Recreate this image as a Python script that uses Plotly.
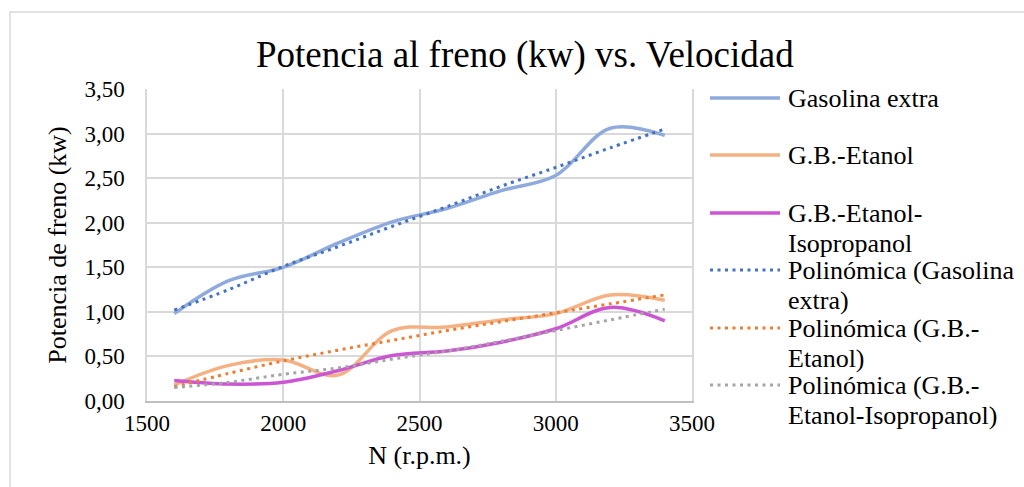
import plotly.graph_objects as go

# Engine speed (r.p.m.)
rpm = [1600, 1800, 2000, 2200, 2400, 2600, 2800, 3000, 3200, 3400]

# Brake power (kW) per fuel
gasolina_extra = [0.98, 1.35, 1.50, 1.77, 2.01, 2.16, 2.36, 2.53, 3.06, 2.98]
gb_etanol = [0.18, 0.40, 0.46, 0.29, 0.79, 0.83, 0.91, 0.98, 1.19, 1.13]
gb_etanol_iso = [0.23, 0.19, 0.21, 0.34, 0.51, 0.56, 0.66, 0.81, 1.05, 0.90]

# Polynomial trend lines
trend_gasolina = [1.02, 1.25, 1.51, 1.73, 1.96, 2.18, 2.41, 2.62, 2.84, 3.05]
trend_etanol = [0.16, 0.31, 0.45, 0.57, 0.68, 0.79, 0.89, 0.99, 1.09, 1.19]
trend_etanol_iso = [0.15, 0.21, 0.30, 0.37, 0.47, 0.56, 0.67, 0.79, 0.91, 1.03]

x_ticks = [1500, 2000, 2500, 3000, 3500]
x_tick_text = ["1500", "2000", "2500", "3000", "3500"]
y_ticks = [0, 0.5, 1.0, 1.5, 2.0, 2.5, 3.0, 3.5]
y_tick_text = ["0,00", "0,50", "1,00", "1,50", "2,00", "2,50", "3,00", "3,50"]

series = [
    ("Gasolina extra", gasolina_extra, "#8FAADC", "solid", 3.5),
    ("G.B.-Etanol", gb_etanol, "#F4B183", "solid", 3.5),
    ("G.B.-Etanol-Isopropanol", gb_etanol_iso, "#CC55D4", "solid", 3.5),
    ("Polinómica (Gasolina extra)", trend_gasolina, "#4472C4", "3px,4.5px", 3),
    ("Polinómica (G.B.-Etanol)", trend_etanol, "#ED7D31", "3px,4.5px", 3),
    ("Polinómica (G.B.-Etanol-Isopropanol)", trend_etanol_iso, "#A5A5A5", "3px,4.5px", 3),
]

# legend rows: text lines for each entry
legend_lines = [
    ["Gasolina extra"],
    ["G.B.-Etanol"],
    ["G.B.-Etanol-", "Isopropanol"],
    ["Polinómica (Gasolina", "extra)"],
    ["Polinómica (G.B.-", "Etanol)"],
    ["Polinómica (G.B.-", "Etanol-Isopropanol)"],
]

W, H = 1024, 487
L, R, T, B = 147, 692, 89, 401
SERIF = "Liberation Serif, Times New Roman, serif"


def xp(px):
    return (px - L) / (R - L)


def yp(py):
    return (B - py) / (B - T)


fig = go.Figure()
for name, vals, color, dash, width in series:
    fig.add_trace(go.Scatter(
        x=rpm, y=vals, name=name, mode="lines",
        line=dict(color=color, width=width, dash=dash, shape="spline", smoothing=1.0),
        showlegend=False,
    ))

shapes = [
    # chart area frame
    dict(type="rect", xref="paper", yref="paper",
         x0=xp(10), x1=xp(1040), y0=yp(12), y1=yp(500),
         line=dict(color="#D9D9D9", width=1.5), fillcolor="rgba(0,0,0,0)", layer="below"),
]
annotations = [
    dict(text="Potencia al freno (kw) vs. Velocidad", xref="paper", yref="paper",
         x=xp(525), y=yp(55), xanchor="center", yanchor="middle", showarrow=False,
         font=dict(family=SERIF, size=37, color="#000000")),
]

entry_y = [98, 155, 213, 270, 328, 385]
line_gap = 30
for (name, vals, color, dash, width), lines, y0 in zip(series, legend_lines, entry_y):
    shapes.append(dict(type="line", xref="paper", yref="paper",
                       x0=xp(710), x1=xp(780), y0=yp(y0), y1=yp(y0),
                       line=dict(color=color, width=width, dash=dash)))
    for i, txt in enumerate(lines):
        annotations.append(dict(text=txt, xref="paper", yref="paper",
                                x=xp(786), y=yp(y0 + i * line_gap),
                                xanchor="left", yanchor="middle", showarrow=False,
                                font=dict(family=SERIF, size=26, color="#000000")))

fig.update_layout(
    width=W, height=H,
    margin=dict(l=L, r=W - R, t=T, b=H - B, pad=0),
    paper_bgcolor="white", plot_bgcolor="white",
    font=dict(family=SERIF, color="#000000"),
    shapes=shapes, annotations=annotations,
    showlegend=False,
)
fig.update_xaxes(
    range=[1500, 3500], tickvals=x_ticks, ticktext=x_tick_text,
    showgrid=True, gridcolor="#D9D9D9", gridwidth=1.5, zeroline=False,
    showline=True, linecolor="#BFBFBF", linewidth=1.5,
    ticks="", ticklabelstandoff=1, tickfont=dict(family=SERIF, size=23),
    title=dict(text="N (r.p.m.)", font=dict(family=SERIF, size=26), standoff=10),
)
fig.update_yaxes(
    range=[0, 3.5], tickvals=y_ticks, ticktext=y_tick_text,
    showgrid=True, gridcolor="#D9D9D9", gridwidth=1.5, zeroline=False,
    showline=True, linecolor="#D9D9D9", linewidth=1.5, mirror=True,
    ticks="", ticklabelstandoff=16, tickfont=dict(family=SERIF, size=23),
    title=dict(text="Potencia de freno (kw)", font=dict(family=SERIF, size=26), standoff=10),
)

fig.write_html("out.html")
